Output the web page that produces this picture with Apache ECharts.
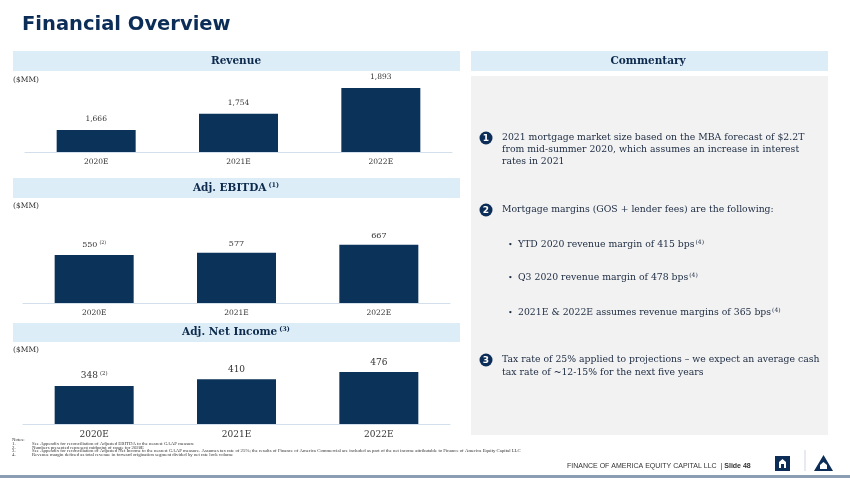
<!DOCTYPE html>
<html>
<head>
<meta charset="utf-8">
<script src="https://cdn.jsdelivr.net/npm/echarts@6/dist/echarts.min.js"></script>
<style>
html,body{margin:0;padding:0;background:#fff;}
#chart{width:850px;height:478px;}
</style>
</head>
<body>
<div id="chart"></div>
<script>
// ---- data ----
const categories = ['2020E', '2021E', '2022E'];
const revenue = [1666, 1754, 1893];
const ebitda = [550, 577, 667];
const netIncome = [348, 410, 476];
const ebitdaNotes = ['(2)', '', ''];
const netIncomeNotes = ['(2)', '', ''];
const unitLabel = '($MM)';
const panelTitles = ['Revenue', 'Adj. EBITDA', 'Adj. Net Income'];
const panelNotes = ['', '(1)', '(3)'];
const commentary1 = ['2021 mortgage market size based on the MBA forecast of $2.2T', 'from mid-summer 2020, which assumes an increase in interest', 'rates in 2021'];
const commentary2 = ['Mortgage margins (GOS + lender fees) are the following:'];
const bullets = ['YTD 2020 revenue margin of 415 bps', 'Q3 2020 revenue margin of 478 bps', '2021E & 2022E assumes revenue margins of 365 bps'];
const commentary3 = ['Tax rate of 25% applied to projections \u2013 we expect an average cash', 'tax rate of ~12-15% for the next five years'];
const footNotes = [
  'See Appendix for reconciliation of Adjusted EBITDA to the nearest GAAP measure',
  'Numbers presented represent midpoint of range for 2020E',
  'See Appendix for reconciliation of Adjusted Net Income to the nearest GAAP measure. Assumes tax rate of 25%; the results of Finance of America Commercial are included as part of the net income attributable to Finance of America Equity Capital LLC',
  'Revenue margin defined as total revenue in forward origination segment divided by net rate lock volume'
];

// ---- style ----
const NAVY = '#0b3259';
const BAND = '#dcedf8';
const SERIF = 'DejaVu Serif';
const TXT = '#1b2a40';

const chart = echarts.init(document.getElementById('chart'), null, {renderer: 'canvas'});

function xAxis(i, size) {
  return {
    type: 'category', gridIndex: i, data: categories,
    axisLine: {lineStyle: {color: '#d3dfea', width: 1}},
    axisTick: {show: false},
    axisLabel: {fontFamily: SERIF, fontSize: size, color: '#333', margin: 6}
  };
}
function yAxis(i, min, max) {
  return {type: 'value', gridIndex: i, min: min, max: max, show: false, splitLine: {show: false}};
}
function barSeries(i, data, notes, size, dist, fmt) {
  return {
    type: 'bar', xAxisIndex: i, yAxisIndex: i, data: data, barWidth: 79,
    itemStyle: {color: NAVY}, silent: true,
    label: {
      show: true, position: 'top', distance: dist,
      formatter: p => {
        const n = notes ? notes[p.dataIndex] : '';
        return '{v|' + fmt(p.value) + '}' + (n ? '{s|' + n + '}' : '');
      },
      rich: {
        v: {fontFamily: SERIF, fontSize: size, color: '#333'},
        s: {fontFamily: SERIF, fontSize: size * 0.6, color: '#333', padding: [0, 0, size * 0.55, 2]}
      }
    }
  };
}
const fmtThousands = v => v.toLocaleString('en-US');

// graphics
const g = [];
function band(x, y, w, h) {
  g.push({type: 'rect', shape: {x: x, y: y, width: w, height: h}, style: {fill: BAND}, silent: true});
}
function header(cx, cy, title, note) {
  g.push({type: 'text', x: cx, y: cy, silent: true, style: {
    text: '{t|' + title + '}' + (note ? '{s|' + note + '}' : ''),
    align: 'center', verticalAlign: 'middle',
    rich: {
      t: {fontFamily: SERIF, fontWeight: 'bold', fontSize: 10.5, fill: '#0d2a4c'},
      s: {fontFamily: SERIF, fontWeight: 'bold', fontSize: 6.5, fill: '#0d2a4c', padding: [0, 0, 5, 2]}
    }
  }});
}
function text(x, y, t, font, color, align) {
  g.push({type: 'text', x: x, y: y, silent: true, style: {text: t, font: font, fill: color || TXT, align: align || 'left', verticalAlign: 'middle'}});
}

// title
text(22, 25, 'Financial Overview', 'bold 19.5px "DejaVu Sans"', '#0c2d57');

// left bands
band(13, 51, 447, 20);
band(13, 178, 447, 20);
band(13, 323, 447, 19);
header(236, 61, panelTitles[0], panelNotes[0]);
header(236, 188, panelTitles[1], panelNotes[1]);
header(236, 332, panelTitles[2], panelNotes[2]);
text(13, 80, unitLabel, '7.5px "DejaVu Serif"', '#333');
text(13, 206, unitLabel, '7.5px "DejaVu Serif"', '#333');
text(13, 350, unitLabel, '7.5px "DejaVu Serif"', '#333');

// commentary
band(471, 51, 357, 20);
header(648, 61, 'Commentary', '');
g.push({type: 'rect', shape: {x: 471, y: 76, width: 357, height: 359}, style: {fill: '#f2f2f2'}, silent: true});

const CF = '9.3px "DejaVu Serif"';
function numCircle(cx, cy, n) {
  g.push({type: 'circle', shape: {cx: cx, cy: cy, r: 6.5}, style: {fill: '#0c2d57'}, silent: true});
  g.push({type: 'text', x: cx, y: cy + 0.5, silent: true, style: {text: n, font: 'bold 9px "DejaVu Sans"', fill: '#fff', align: 'center', verticalAlign: 'middle'}});
}
numCircle(486, 138, '1');
commentary1.forEach((t, i) => text(502, 138 + i * 12, t, CF));
numCircle(486, 210, '2');
commentary2.forEach((t, i) => text(502, 210 + i * 12, t, CF));
const bulletY = [245, 278, 313];
bullets.forEach((t, i) => {
  text(508, bulletY[i], '\u2022', '8px "DejaVu Serif"');
  g.push({type: 'text', x: 518, y: bulletY[i], silent: true, style: {
    text: '{a|' + t + '}{s|(4)}', verticalAlign: 'middle',
    rich: {a: {font: CF, fill: TXT}, s: {font: '6px "DejaVu Serif"', fill: TXT, padding: [0, 0, 5, 1]}}
  }});
});
numCircle(486, 360, '3');
commentary3.forEach((t, i) => text(502, 360 + i * 12.5, t, CF));

// footnotes
const FN = '4.8px "Liberation Serif"';
text(12, 440, 'Notes:', FN, '#333');
footNotes.forEach((t, i) => {
  text(12, 444 + i * 3.6, (i + 1) + '.', FN, '#333');
  text(32, 444 + i * 3.6, t, FN, '#333');
});

// footer
g.push({type: 'text', x: 567, y: 466, silent: true, style: {
  text: '{a|FINANCE OF AMERICA EQUITY CAPITAL LLC  | }{b|Slide 48}', verticalAlign: 'middle',
  rich: {a: {font: '7px "Liberation Sans"', fill: '#333'}, b: {font: 'bold 7px "Liberation Sans"', fill: '#333'}}
}});
// logo square
g.push({type: 'rect', shape: {x: 775, y: 456, width: 15, height: 15}, style: {fill: '#0c2d57'}, silent: true});
g.push({type: 'polygon', shape: {points: [[779, 468], [779, 462], [782.5, 459], [786, 462], [786, 468], [784, 468], [784, 464], [781, 464], [781, 468]]}, style: {fill: '#fff'}, silent: true});
g.push({type: 'line', shape: {x1: 805, y1: 450, x2: 805, y2: 471}, style: {stroke: '#cfd6de', lineWidth: 1}, silent: true});
g.push({type: 'polygon', shape: {points: [[823.5, 455], [814, 471], [833, 471]]}, style: {fill: '#0c2d57'}, silent: true});
g.push({type: 'polygon', shape: {points: [[820, 469], [820, 465], [823.5, 462], [827, 465], [827, 469]]}, style: {fill: '#fff'}, silent: true});
// bottom bar
g.push({type: 'rect', shape: {x: 0, y: 475, width: 850, height: 3}, style: {fill: '#8b9db3'}, silent: true});

chart.setOption({
  animation: false,
  backgroundColor: '#fff',
  grid: [
    {left: 25, width: 427, top: 80, height: 72},
    {left: 23, width: 427, top: 215, height: 88},
    {left: 23, width: 427, top: 355, height: 69}
  ],
  xAxis: [xAxis(0, 7.5), xAxis(1, 7.5), xAxis(2, 9)],
  yAxis: [yAxis(0, 1547, 1936), yAxis(1, 0, 1008), yAxis(2, 0, 633)],
  series: [
    barSeries(0, revenue, null, 7.5, 7, fmtThousands),
    barSeries(1, ebitda, ebitdaNotes, 8, 5, fmtThousands),
    barSeries(2, netIncome, netIncomeNotes, 9, 5, fmtThousands)
  ],
  graphic: g
});
</script>
</body>
</html>
